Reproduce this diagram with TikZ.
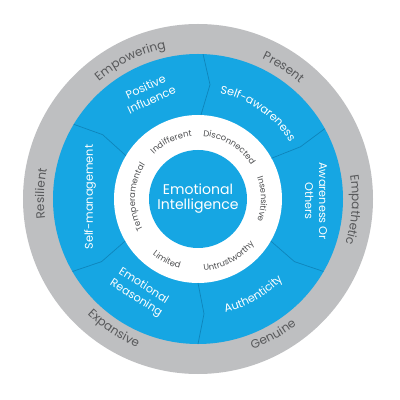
\documentclass[tikz,border=0pt]{standalone}
\usepackage{fontspec}
\setmainfont{Poppins}
\usetikzlibrary{decorations.text}

\definecolor{eiblue}{RGB}{22,166,227}
\definecolor{eigray}{RGB}{190,191,193}
\definecolor{wordgray}{RGB}{88,89,91}
\definecolor{seamblue}{RGB}{10,110,160}

\newcommand\outerfont{\color{wordgray}\fontsize{8.6}{8.6}\selectfont}
\newcommand\innerfont{\color{wordgray!90!black}\fontsize{6}{6}\selectfont}
\newcommand\bluefont{\color{white}\fontsize{8}{8}\selectfont}

\begin{document}
\begin{tikzpicture}[x=0.025cm, y=0.025cm,
        outerword/.style={decorate, decoration={text along path, text align=center, text={|\outerfont|#1}}},
        innerword/.style={decorate, decoration={text along path, text align=center, text={|\innerfont|#1}}},
        blueword/.style={decorate, decoration={text along path, text align=center, text={|\bluefont|#1}}},
        bluelabel/.style={text=white, font=\fontsize{8}{10}\selectfont, align=center, inner sep=0pt},
        seamline/.style={seamblue, line width=0.5pt, opacity=0.6},
        ]
        \useasboundingbox (-198,-201) rectangle (202,199);

        % Rings
        \fill[eigray] (0,0) circle (175);
        \fill[eiblue] (0,0) circle (145);
        \fill[white] (0,0) circle (84);
        \fill[eiblue] (0,0) circle (49);

        % Seams between the blue pieces
        \foreach \a/\k in {88/-4, 29/-2, -30/-3, -90/3, -150/3, 149/-3}
            \draw[seamline] (\a:84) -- ({\a+\k}:115) -- (\a:145);

        % Centre
        \node[text=white, font=\fontsize{10}{10.6}\selectfont, align=center] (core) at (0,0) {Emotional\\Intelligence};

        % Outer ring
        \path[outerword=Empowering] (156:154) arc[start angle=156, end angle=76, radius=154];
        \path[outerword=Present] (97:154) arc[start angle=97, end angle=17, radius=154];
        \path[outerword=Empathetic] (36:154) arc[start angle=36, end angle=-44, radius=154];
        \path[outerword=Resilient] (218:154) arc[start angle=218, end angle=138, radius=154];
        \path[outerword=Genuine] (-101:160) arc[start angle=-101, end angle=-21, radius=160];
        \path[outerword=Expansive] (-163:160) arc[start angle=-163, end angle=-83, radius=160];

        % Blue ring
        \node[bluelabel, rotate=25] (influence) at (115:117) {Positive\\Influence};
        \path[blueword=Self-awareness] (90:108) arc[start angle=90, end angle=20, radius=108];
        \node[bluelabel, rotate=-90] (others) at (-1:118) {Awareness Or\\Others};
        \path[blueword=Authenticity] (-95:117) arc[start angle=-95, end angle=-25, radius=117];
        \node[bluelabel, rotate=-32] (reasoning) at (-122:110) {Emotional\\Reasoning};
        \node[bluelabel, rotate=90] (selfmgmt) at (179:108) {Self-management};

        % White ring
        \path[innerword=Indifferent] (160:63) arc[start angle=160, end angle=70, radius=63];
        \path[innerword=Disconnected] (104:63) arc[start angle=104, end angle=14, radius=63];
        \path[innerword=Insensitive] (45:63) arc[start angle=45, end angle=-45, radius=63];
        \path[innerword=Temperamental] (223:63) arc[start angle=223, end angle=133, radius=63];
        \path[innerword=Limited] (-162:72) arc[start angle=-162, end angle=-72, radius=72];
        \path[innerword=Untrustworthy] (-107:72) arc[start angle=-107, end angle=-17, radius=72];

    \end{tikzpicture}
\end{document}
